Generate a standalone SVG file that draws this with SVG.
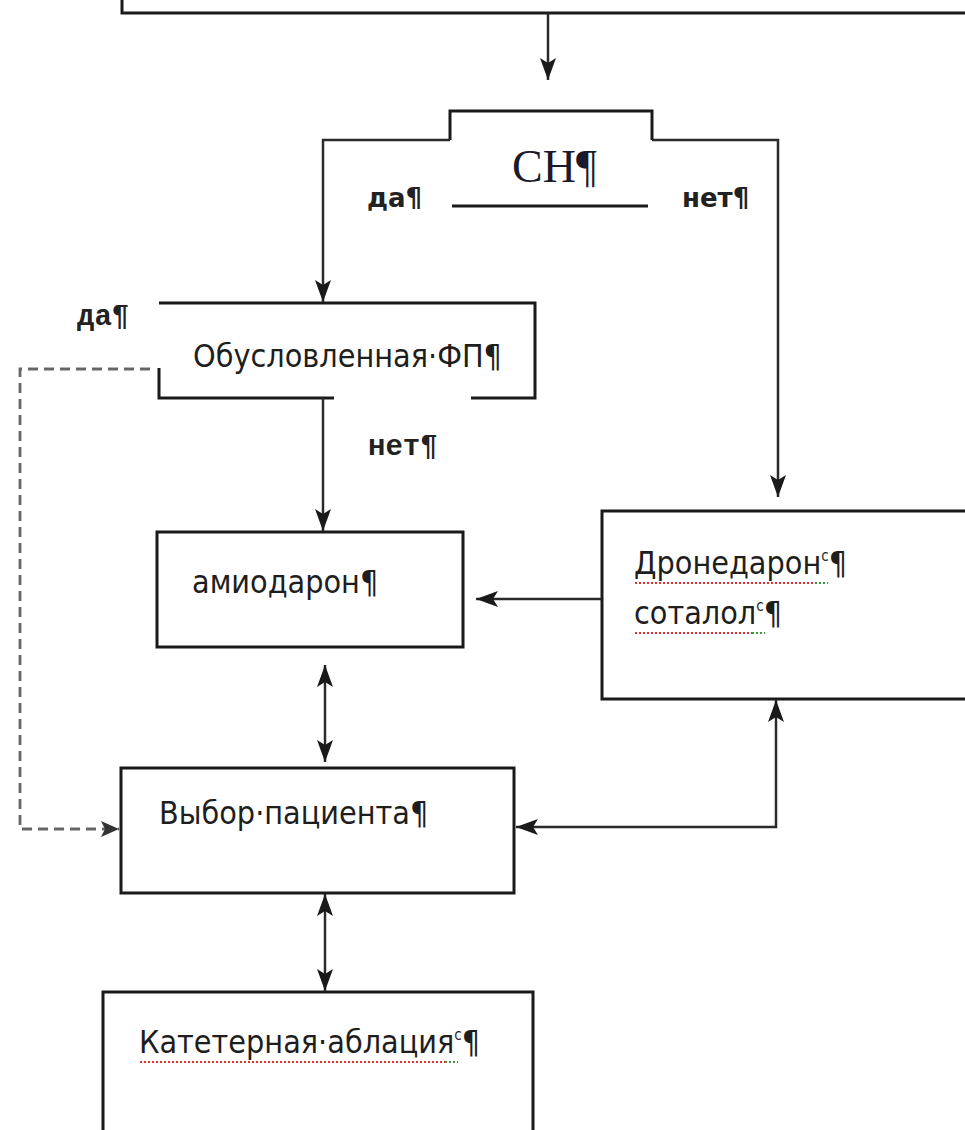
<svg xmlns="http://www.w3.org/2000/svg" width="965" height="1130" viewBox="0 0 965 1130">
<style>
.box{fill:#fff;stroke:#1a1a1a;stroke-width:3}
.edge{fill:none;stroke:#1a1a1a;stroke-width:3}
.conn{fill:none;stroke:#2a2a2a;stroke-width:2.5}
.dash{fill:none;stroke:#666;stroke-width:2.8;stroke-dasharray:10 6}
.t{font-family:"DejaVu Sans Condensed","DejaVu Sans",Verdana,sans-serif;font-stretch:condensed;font-size:32px;fill:#1e1e1e}
.lb{font-family:"DejaVu Sans",Verdana,sans-serif;font-size:26px;font-weight:bold;fill:#222}
.lm{font-family:"Liberation Mono","Courier New",monospace;font-size:29px;font-weight:bold;fill:#222}
.sr{font-family:"Liberation Serif","Times New Roman",serif;font-size:46px;fill:#1a1a2a}
.sup{font-size:15px}
.spell{fill:none;stroke:#e03030;stroke-width:2;stroke-dasharray:2 2}
.gram{fill:none;stroke:#3a9a3a;stroke-width:2;stroke-dasharray:2 2}
</style>
<defs>
<marker id="ah" markerUnits="userSpaceOnUse" markerWidth="24" markerHeight="16" refX="22" refY="8" orient="auto-start-reverse" viewBox="0 0 24 16">
<path d="M0,0 L22,8 L0,16 L5,8 Z" fill="#1a1a1a"/>
</marker>
<marker id="ahg" markerUnits="userSpaceOnUse" markerWidth="20" markerHeight="16" refX="18" refY="8" orient="auto" viewBox="0 0 20 16">
<path d="M0,0 L18,8 L0,16 L4,8 Z" fill="#333"/>
</marker>
</defs>
<rect width="965" height="1130" fill="#fff"/>

<g id="top-box">
<rect class="box" x="122" y="-20" width="870" height="33"/>
</g>

<g id="sn">
<path class="edge" d="M450,140 L450,111 L652,111 L652,140"/>
<line class="edge" x1="452" y1="206" x2="648" y2="206"/>
<text class="sr" x="512" y="182">СН¶</text>
</g>

<g id="conditional-af">
<path class="edge" d="M159,303 L535,303 L535,398 L471,398"/>
<path class="edge" d="M159,368 L159,398 L334,398"/>
<text class="t" x="193" y="367">Обусловленная·ФП¶</text>
</g>

<g id="amiodarone">
<rect class="box" x="157" y="532" width="306" height="115"/>
<text class="t" x="192" y="593">амиодарон¶</text>
</g>

<g id="dronedarone">
<rect class="box" x="602" y="511" width="400" height="188"/>
<text class="t" x="634" y="574">Дронедарон<tspan class="sup" dy="-13">c</tspan><tspan dy="13">¶</tspan></text>
<text class="t" x="634" y="624">соталол<tspan class="sup" dy="-13">c</tspan><tspan dy="13">¶</tspan></text>
<line class="spell" x1="635" y1="583" x2="815" y2="583"/>
<line class="gram" x1="815" y1="583" x2="828" y2="583"/>
<line class="spell" x1="635" y1="633" x2="752" y2="633"/>
<line class="gram" x1="752" y1="633" x2="765" y2="633"/>
</g>

<g id="patient-choice">
<rect class="box" x="121" y="768" width="393" height="125"/>
<text class="t" x="159" y="824">Выбор·пациента¶</text>
</g>

<g id="catheter-ablation">
<rect class="box" x="103" y="992" width="430" height="150"/>
<text class="t" x="139" y="1053">Катетерная·аблация<tspan class="sup" dy="-13">c</tspan><tspan dy="13">¶</tspan></text>
<line class="spell" x1="140" y1="1062" x2="445" y2="1062"/>
<line class="gram" x1="445" y1="1062" x2="458" y2="1062"/>
</g>

<g id="labels">
<text class="lb" x="367" y="207">да¶</text>
<text class="lb" x="682" y="207">нет¶</text>
<text class="lm" x="77" y="325">да¶</text>
<text class="lm" x="368" y="455">нет¶</text>
</g>

<g id="connectors">
<line class="conn" x1="548" y1="13" x2="548" y2="80" marker-end="url(#ah)"/>
<path class="conn" d="M450,140 L323,140 L323,302" marker-end="url(#ah)"/>
<path class="conn" d="M652,140 L778,140 L778,497" marker-end="url(#ah)"/>
<line class="conn" x1="323" y1="398" x2="323" y2="531" marker-end="url(#ah)"/>
<path class="dash" d="M150,369 L20,369 L20,829 L119,829" marker-end="url(#ahg)"/>
<line class="conn" x1="601" y1="599" x2="476" y2="599" marker-end="url(#ah)"/>
<line class="conn" x1="325" y1="665" x2="325" y2="762" marker-start="url(#ah)" marker-end="url(#ah)"/>
<line class="conn" x1="325" y1="894" x2="325" y2="991" marker-start="url(#ah)" marker-end="url(#ah)"/>
<path class="conn" d="M516,827 L776,827 L776,700" marker-start="url(#ah)" marker-end="url(#ah)"/>
</g>
</svg>
